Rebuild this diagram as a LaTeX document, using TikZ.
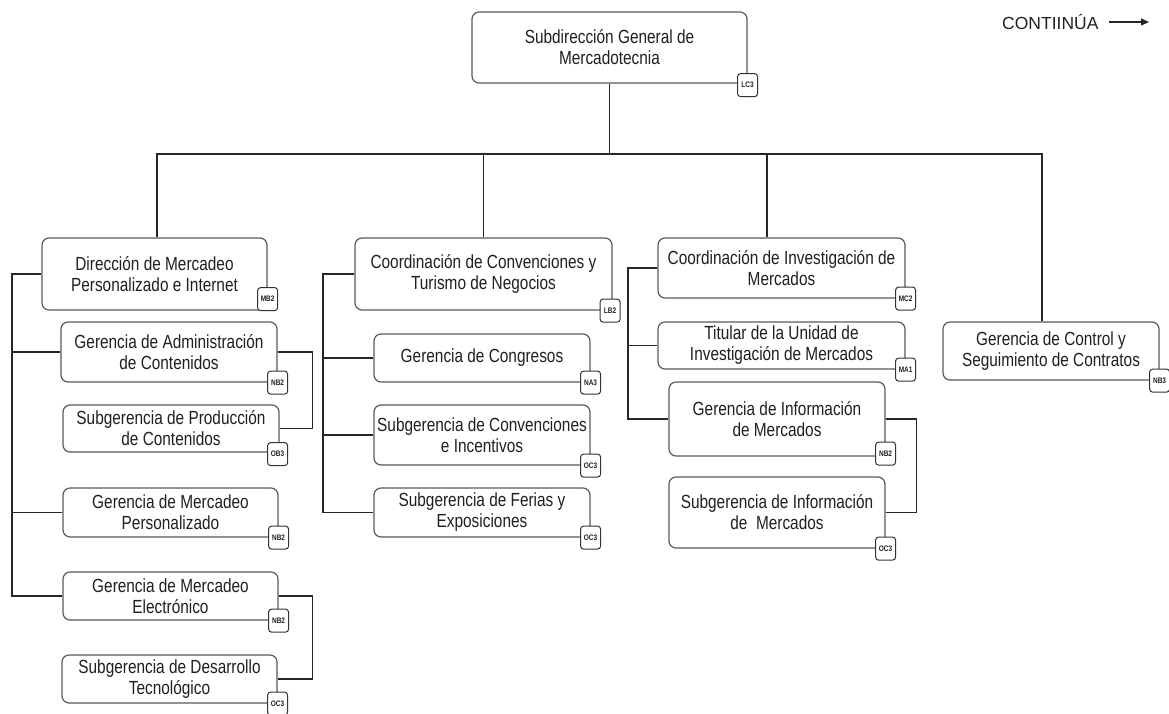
\documentclass[tikz,border=0pt]{standalone}
\usepackage{fontspec}
\setmainfont{Liberation Sans}
\newfontfamily\narrowfont[FakeStretch=0.81]{Liberation Sans}
\usetikzlibrary{arrows.meta}
\definecolor{boxline}{HTML}{5A5A5A}
\definecolor{txt}{HTML}{202020}
\tikzset{
 unitbox/.style={draw=boxline, line width=1.2pt, rounded corners=7pt, fill=white, align=center, inner sep=0pt, font=\narrowfont\fontsize{19}{21}\selectfont, text=txt},
 tagbox/.style={draw=black!80, line width=1pt, rounded corners=3pt, fill=white, minimum width=20pt, minimum height=23pt, inner sep=0pt, font=\narrowfont\fontsize{8}{9}\selectfont\bfseries, text=txt},
 link/.style={draw=black!85, line width=1.4pt},
}
\begin{document}
\begin{tikzpicture}[x=1pt,y=-1pt]
\useasboundingbox (0,0) rectangle (1169,713);
% boxes
\node[unitbox, minimum width=275pt, minimum height=71pt] (top) at (609.5,47.5) {Subdirección General de\\Mercadotecnia};
\node[unitbox, minimum width=225pt, minimum height=72pt] (dir) at (154.5,274) {Dirección de Mercadeo\\Personalizado e Internet};
\node[unitbox, minimum width=216pt, minimum height=60pt] (gadm) at (169,352) {Gerencia de Administración\\de Contenidos};
\node[unitbox, minimum width=216pt, minimum height=47pt] (sprod) at (171,428.5) {Subgerencia de Producción\\de Contenidos};
\node[unitbox, minimum width=215pt, minimum height=49pt] (gmp) at (170.5,512.5) {Gerencia de Mercadeo\\Personalizado};
\node[unitbox, minimum width=215pt, minimum height=48pt] (gme) at (170.5,596) {Gerencia de Mercadeo\\Electrónico};
\node[unitbox, minimum width=215pt, minimum height=48pt] (sdes) at (169.5,679) {Subgerencia de Desarrollo\\Tecnológico};
\node[unitbox, minimum width=257pt, minimum height=72pt] (cc) at (483.5,274) {Coordinación de Convenciones y\\Turismo de Negocios};
\node[unitbox, minimum width=216pt, minimum height=48pt] (gcong) at (482,358) {Gerencia de Congresos};
\node[unitbox, minimum width=216pt, minimum height=60pt] (sconv) at (482,435) {Subgerencia de Convenciones\\e Incentivos};
\node[unitbox, minimum width=216pt, minimum height=49pt] (sfer) at (482,512.5) {Subgerencia de Ferias y\\Exposiciones};
\node[unitbox, minimum width=247pt, minimum height=60pt] (ci) at (781.5,268) {Coordinación de Investigación de\\Mercados};
\node[unitbox, minimum width=247pt, minimum height=47pt] (tit) at (781.5,345.5) {Titular de la Unidad de\\Investigación de Mercados};
\node[unitbox, minimum width=216pt, minimum height=74pt] (ginf) at (777,419) {Gerencia de Información\\de Mercados};
\node[unitbox, minimum width=216pt, minimum height=71pt] (sinf) at (777,512.5) {Subgerencia de Información\\de\ \ Mercados};
\node[unitbox, minimum width=216pt, minimum height=58pt] (gcs) at (1051,351) {Gerencia de Control y\\Seguimiento de Contratos};
% continua
\node[font=\fontsize{17.5}{20}\selectfont, text=txt, anchor=west, inner sep=0pt] (cont) at (1002,22) {CONTIINÚA};
\coordinate (contend) at (1149,22);
\draw[link, -{Triangle[length=8pt,width=7pt]}] ([xshift=10pt]cont.east) -- (contend);
% bus
\coordinate (bus) at (609.5,154);
\draw[link] (top.south) -- (bus);
\draw[link] ([xshift=2.5pt]dir.north) |- (bus);
\draw[link] (cc.north) |- (bus);
\draw[link] ([xshift=-14.5pt]ci.north) |- (bus);
\draw[link] ([xshift=-9pt]gcs.north) |- (bus);
% spines
\coordinate (sl) at (12,0);
\coordinate (sm) at (323,0);
\coordinate (sr) at (628,0);
\draw[link] (dir.west) -- (dir.west -| sl) |- (gme.west);
\draw[link] (gadm.west) -- (gadm.west -| sl);
\draw[link] (gmp.west) -- (gmp.west -| sl);
\draw[link] (cc.west) -- (cc.west -| sm) |- (sfer.west);
\draw[link] (gcong.west) -- (gcong.west -| sm);
\draw[link] (sconv.west) -- (sconv.west -| sm);
\draw[link] (ci.west) -- (ci.west -| sr) |- (ginf.west);
\draw[link] (tit.west) -- (tit.west -| sr);
% brackets
\draw[link] (gadm.east) -- ++(35,0) |- (sprod.east);
\draw[link] (gme.east) -- ++(34,0) |- (sdes.east);
\draw[link] (ginf.east) -- ++(31,0) |- (sinf.east);
% tags
\node[tagbox, yshift=-1.5pt] (ttop) at (top.south east) {LC3};
\node[tagbox, yshift=11.5pt] (tdir) at (dir.south east) {MB2};
\node[tagbox] (tgadm) at (gadm.south east) {NB2};
\node[tagbox, xshift=-2pt, yshift=-1.5pt] (tsprod) at (sprod.south east) {OB3};
\node[tagbox] (tgmp) at (gmp.south east) {NB2};
\node[tagbox] (tgme) at (gme.south east) {NB2};
\node[tagbox] (tsdes) at (sdes.south east) {OC3};
\node[tagbox, xshift=-2.5pt] (tcc) at (cc.south east) {LB2};
\node[tagbox] (tgcong) at (gcong.south east) {NA3};
\node[tagbox] (tsconv) at (sconv.south east) {OC3};
\node[tagbox] (tsfer) at (sfer.south east) {OC3};
\node[tagbox] (tci) at (ci.south east) {MC2};
\node[tagbox] (ttit) at (tit.south east) {MA1};
\node[tagbox, yshift=3pt] (tginf) at (ginf.south east) {NB2};
\node[tagbox] (tsinf) at (sinf.south east) {OC3};
\node[tagbox] (tgcs) at (gcs.south east) {NB3};
\end{tikzpicture}
\end{document}
